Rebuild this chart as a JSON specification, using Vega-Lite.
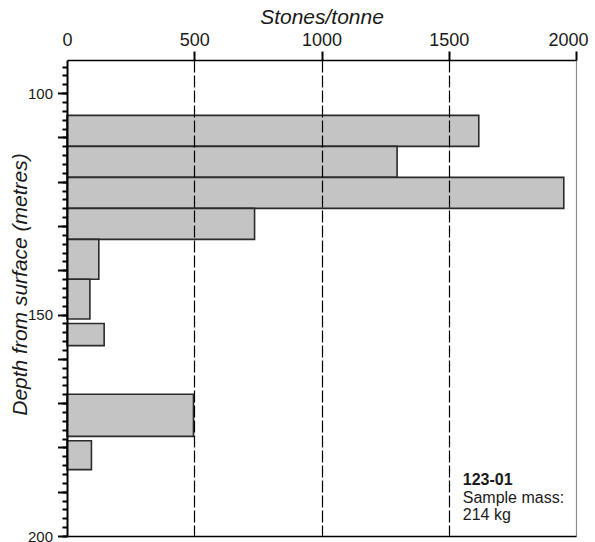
{
  "$schema": "https://vega.github.io/schema/vega-lite/v6.json",
  "width": 509,
  "height": 476,
  "autosize": {"type": "none"},
  "padding": {"left": 67, "top": 60, "right": 19, "bottom": 6},
  "config": {
    "view": {"stroke": null},
    "font": "Liberation Sans",
    "text": {"font": "Liberation Sans"}
  },
  "datasets": {
    "bars": [
      {"top": 105, "bottom": 112, "stones": 1618},
      {"top": 112, "bottom": 119, "stones": 1297},
      {"top": 119, "bottom": 126, "stones": 1952},
      {"top": 126, "bottom": 133, "stones": 737},
      {"top": 133, "bottom": 142, "stones": 125},
      {"top": 142, "bottom": 151, "stones": 90},
      {"top": 152, "bottom": 157, "stones": 146},
      {"top": 168, "bottom": 177.5, "stones": 497},
      {"top": 178.5, "bottom": 185, "stones": 96}
    ]
  },
  "layer": [
    {
      "data": {"name": "bars"},
      "mark": {"type": "rect", "fill": "#c4c4c4", "stroke": "#2b2b2b", "strokeWidth": 1.6},
      "encoding": {
        "x": {
          "field": "stones",
          "type": "quantitative",
          "scale": {"domain": [0, 2000], "nice": false, "zero": true},
          "axis": {
            "orient": "top",
            "title": "Stones/tonne",
            "values": [0, 500, 1000, 1500, 2000],
            "format": "d",
            "labelFlush": false,
            "labelOffset": {"condition": {"test": "datum.value >= 2000", "value": -8}, "value": 0},
            "grid": true,
            "gridColor": {"condition": {"test": "datum.value >= 2000", "value": "#8c8c8c"}, "value": "#000000"},
            "gridDash": {"condition": {"test": "datum.value >= 2000", "value": [1, 0]}, "value": [12, 3]},
            "gridOpacity": {"condition": {"test": "datum.value <= 0", "value": 0}, "value": 1},
            "gridWidth": 1.2,
            "tickSize": 9,
            "tickWidth": 2,
            "tickColor": "#000000",
            "tickOpacity": {"condition": {"test": "datum.value <= 0", "value": 0}, "value": 1},
            "domainColor": "#000000",
            "domainWidth": 1.5,
            "labelFontSize": 18,
            "labelColor": "#1a1a1a",
            "labelPadding": 2,
            "titleFontStyle": "italic",
            "titleFontWeight": "normal",
            "titleFontSize": 21,
            "titleColor": "#1a1a1a",
            "titlePadding": 4,
            "zindex": 1
          }
        },
        "x2": {"datum": 0},
        "y": {
          "field": "top",
          "type": "quantitative",
          "scale": {"domain": [92.5, 200], "reverse": true, "nice": false, "zero": false},
          "axis": {
            "orient": "left",
            "title": "Depth from surface (metres)",
            "values": [100, 110, 120, 130, 140, 150, 160, 170, 180, 190, 200],
            "labelExpr": "datum.value % 50 == 0 ? datum.label : ''",
            "tickSize": 9.5,
            "tickWidth": 2,
            "tickColor": "#000000",
            "domainColor": "#000000",
            "domainWidth": 2,
            "labelFontSize": 15,
            "labelColor": "#1a1a1a",
            "labelPadding": 5,
            "grid": false,
            "titleFontStyle": "italic",
            "titleFontWeight": "normal",
            "titleFontSize": 21,
            "titleColor": "#1a1a1a",
            "titleX": -47,
            "titleY": 224,
            "titleBaseline": "middle",
            "titleAngle": -90,
            "zindex": 1
          }
        },
        "y2": {"field": "bottom"}
      }
    },
    {
      "data": {"name": "bars"},
      "mark": {"type": "rule", "opacity": 0},
      "encoding": {
        "y": {
          "field": "top",
          "type": "quantitative",
          "axis": {
            "orient": "left",
            "title": null,
            "values": [94, 96, 98, 100, 102, 104, 106, 108, 110, 112, 114, 116, 118, 120, 122, 124, 126, 128, 130, 132, 134, 136, 138, 140, 142, 144, 146, 148, 150, 152, 154, 156, 158, 160, 162, 164, 166, 168, 170, 172, 174, 176, 178, 180, 182, 184, 186, 188, 190, 192, 194, 196, 198, 200],
            "labels": false,
            "domain": false,
            "tickSize": 5,
            "tickWidth": 2,
            "tickColor": "#000000",
            "grid": true,
            "gridColor": "#000000",
            "gridWidth": 1.5,
            "gridOpacity": {"condition": {"test": "datum.value >= 200", "value": 1}, "value": 0},
            "zindex": 1
          }
        }
      }
    },
    {
      "data": {"values": [{"label": "123-01"}]},
      "mark": {"type": "text", "align": "left", "baseline": "middle", "fontSize": 16, "fontWeight": "bold", "color": "#1a1a1a"},
      "encoding": {
        "x": {"datum": 1555, "type": "quantitative"},
        "y": {"datum": 187.35, "type": "quantitative", "axis": null},
        "text": {"field": "label", "type": "nominal"}
      }
    },
    {
      "data": {"values": [{"label": ["Sample mass:", "214 kg"]}]},
      "mark": {"type": "text", "align": "left", "baseline": "middle", "fontSize": 16, "lineHeight": 17.5, "color": "#1a1a1a"},
      "encoding": {
        "x": {"datum": 1555, "type": "quantitative"},
        "y": {"datum": 191.4, "type": "quantitative", "axis": null},
        "text": {"field": "label", "type": "nominal"}
      }
    }
  ],
  "resolve": {"axis": {"y": "independent"}}
}
